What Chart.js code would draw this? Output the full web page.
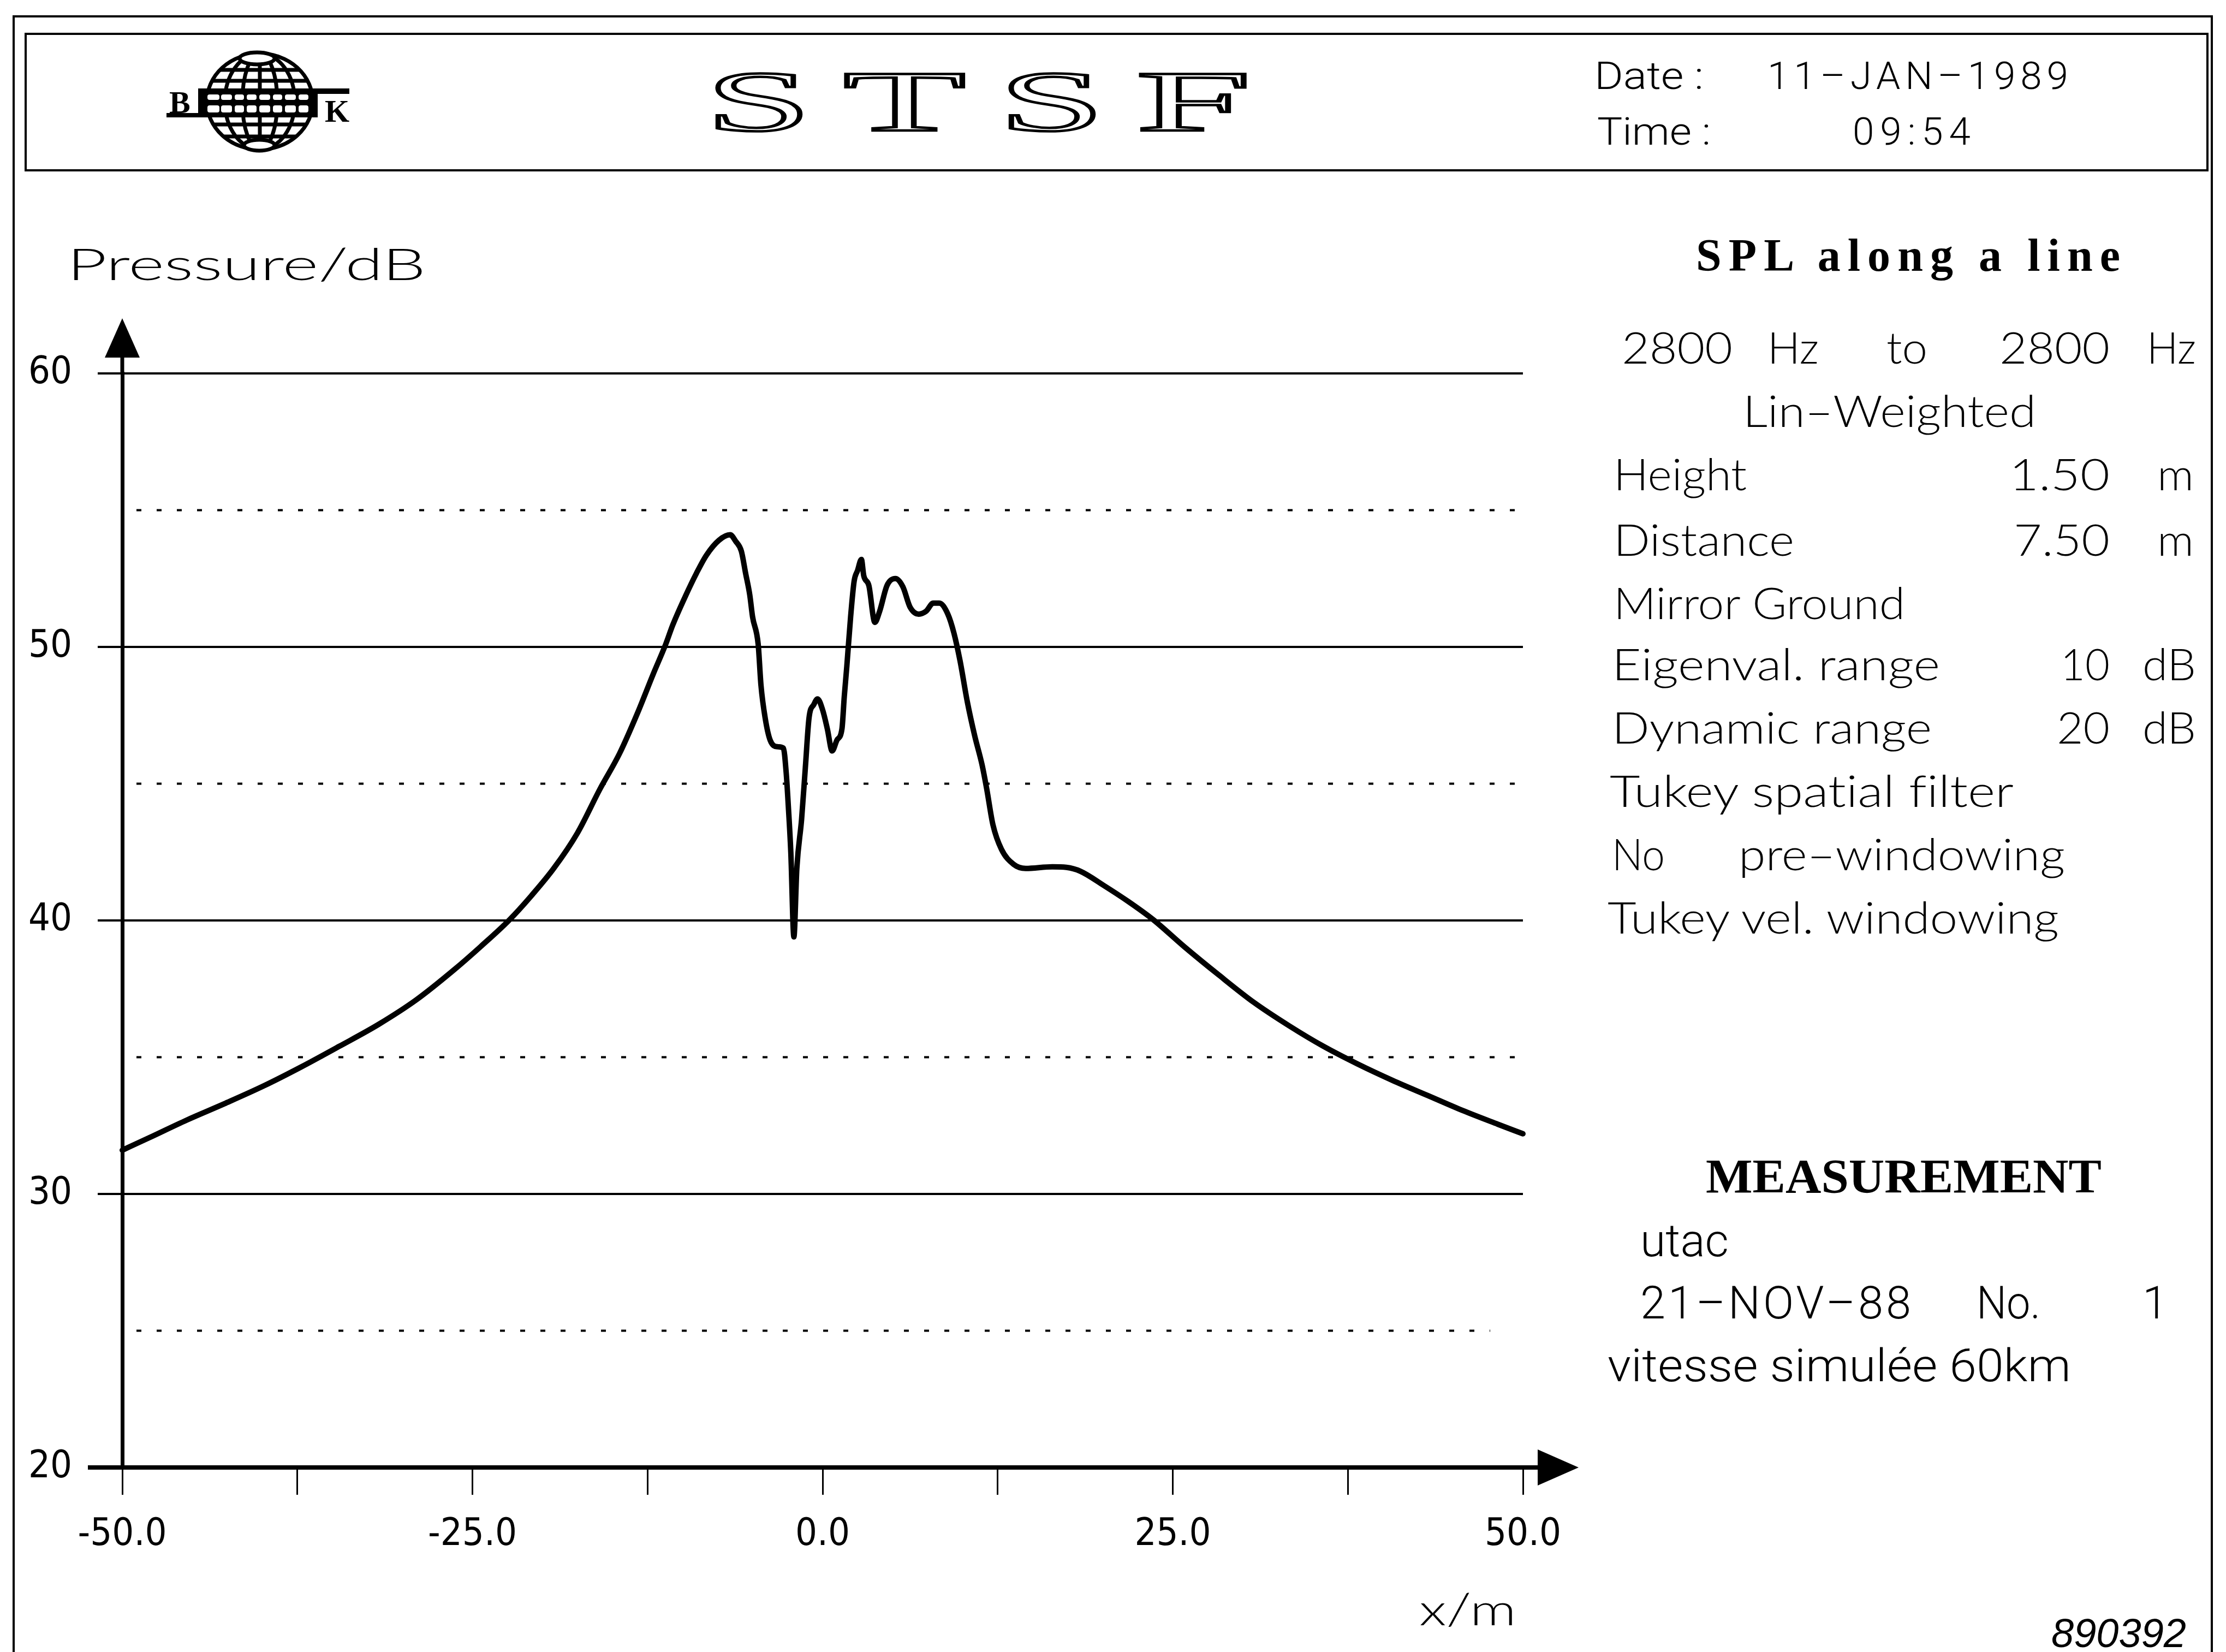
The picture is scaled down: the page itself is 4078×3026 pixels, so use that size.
<!DOCTYPE html>
<html lang="en">
<head>
    <meta charset="UTF-8">
    <title>STSF - SPL along a line</title>
    <script src="https://cdn.jsdelivr.net/npm/chart.js"></script>
    <style>
        html, body { margin: 0; padding: 0; background: #fff; }
        .page { position: relative; width: 4078px; height: 3026px; overflow: hidden; background: #fff; }
        #splChart { position: absolute; left: 0; top: 0; }
        #sheet { position: absolute; left: 0; top: 0; font-variant-ligatures: none; }
        .geo { font-family: Lato, 'DejaVu Sans', sans-serif; font-weight: 300; font-size: 80px; }
        .plain { font-family: Roboto, 'Liberation Sans', sans-serif; font-weight: 300; }
        .serif { font-family: 'Liberation Serif', 'DejaVu Serif', serif; font-weight: bold; }
    </style>
</head>
<body>
<div class="page">
    <canvas id="splChart" width="4078" height="3026"></canvas>

    <svg id="sheet" width="4078" height="3026" viewBox="0 0 4078 3026">
        <!-- frames -->
        <g fill="none" stroke="#000" stroke-width="4">
            <path d="M25 3040 V30 H4052 V3040"/>
            <rect x="47" y="62" width="3997" height="250"/>
        </g>

        <!-- B&K globe logo -->
        <g stroke="#000" fill="none" stroke-width="7">
            <ellipse cx="476" cy="186" rx="97" ry="88"/>
            <ellipse cx="476" cy="186" rx="64" ry="88"/>
            <ellipse cx="476" cy="186" rx="32" ry="88"/>
            <line x1="476" y1="98" x2="476" y2="274"/>
            <line x1="403" y1="128" x2="549" y2="128"/>
            <line x1="389" y1="148" x2="563" y2="148"/>
            <line x1="391" y1="228" x2="561" y2="228"/>
            <line x1="409" y1="250" x2="543" y2="250"/>
            <ellipse cx="471" cy="107" rx="32" ry="11" fill="#fff"/>
            <ellipse cx="475" cy="266" rx="28" ry="10" fill="#fff"/>
        </g>
        <g fill="#000">
            <rect x="363" y="162" width="219" height="53"/>
            <rect x="582" y="162" width="58" height="10"/>
            <rect x="305" y="207" width="58" height="8"/>
        </g>
        <g fill="#fff">
            <rect x="380" y="173" width="22" height="10" rx="4"/>
            <rect x="405" y="173" width="20" height="10" rx="4"/>
            <rect x="430" y="173" width="17" height="10" rx="4"/>
            <rect x="452" y="173" width="18" height="10" rx="4"/>
            <rect x="475" y="173" width="20" height="10" rx="4"/>
            <rect x="500" y="173" width="17" height="10" rx="4"/>
            <rect x="522" y="173" width="20" height="10" rx="4"/>
            <rect x="547" y="173" width="18" height="10" rx="4"/>
            <rect x="380" y="193" width="22" height="13" rx="4"/>
            <rect x="405" y="193" width="20" height="13" rx="4"/>
            <rect x="430" y="193" width="17" height="13" rx="4"/>
            <rect x="452" y="193" width="18" height="13" rx="4"/>
            <rect x="475" y="193" width="20" height="13" rx="4"/>
            <rect x="500" y="193" width="17" height="13" rx="4"/>
            <rect x="522" y="193" width="20" height="13" rx="4"/>
            <rect x="547" y="193" width="18" height="13" rx="4"/>
        </g>
        <text class="serif" x="310" y="207" font-size="58">B</text>
        <text class="serif" x="595" y="223" font-size="58">K</text>

        <!-- STSF, stretched outline letters -->
        <g font-family="'Liberation Serif', 'DejaVu Serif', serif" font-size="158" fill="#fff" stroke="#000" stroke-width="4.5">
            <text x="1292" y="239" textLength="195" lengthAdjust="spacingAndGlyphs">S</text>
            <text x="1545" y="239" textLength="224" lengthAdjust="spacingAndGlyphs">T</text>
            <text x="1829" y="239" textLength="195" lengthAdjust="spacingAndGlyphs">S</text>
            <text x="2081" y="239" textLength="211" lengthAdjust="spacingAndGlyphs">F</text>
        </g>

        <!-- date / time -->
        <g class="plain" font-size="71" fill="#000">
            <text x="2921" y="163" textLength="200" lengthAdjust="spacingAndGlyphs">Date :</text>
            <text x="3238" y="163" textLength="551">11–JAN–1989</text>
            <text x="2926" y="265" textLength="208" lengthAdjust="spacingAndGlyphs">Time :</text>
            <text x="3394" y="265" textLength="216">09:54</text>
        </g>

        <!-- axis titles -->
        <text class="geo" x="123" y="513" font-size="108" textLength="657" lengthAdjust="spacingAndGlyphs">Pressure/dB</text>
        <text class="geo" x="2600" y="2977" font-size="100" textLength="178" lengthAdjust="spacingAndGlyphs">x/m</text>
        <text x="3758" y="3017" font-family="'Liberation Sans', sans-serif" font-style="italic" font-size="74" textLength="247">890392</text>

        <!-- settings panel -->
        <text class="serif" x="3107" y="496" font-size="84" textLength="777">SPL along a line</text>
        <g class="geo" fill="#000" lengthAdjust="spacingAndGlyphs">
            <text x="2971" y="666" textLength="203" lengthAdjust="spacingAndGlyphs">2800</text>
            <text x="3238" y="666" textLength="94" lengthAdjust="spacingAndGlyphs">Hz</text>
            <text x="3456" y="666" textLength="75" lengthAdjust="spacingAndGlyphs">to</text>
            <text x="3663" y="666" textLength="202" lengthAdjust="spacingAndGlyphs">2800</text>
            <text x="3933" y="666" textLength="90" lengthAdjust="spacingAndGlyphs">Hz</text>

            <text x="3193" y="782" textLength="537" lengthAdjust="spacingAndGlyphs">Lin–Weighted</text>

            <text x="2956" y="898" textLength="244" lengthAdjust="spacingAndGlyphs">Height</text>
            <text x="3681" y="898" textLength="184" lengthAdjust="spacingAndGlyphs">1.50</text>
            <text x="3952" y="898" textLength="67" lengthAdjust="spacingAndGlyphs">m</text>

            <text x="2956" y="1018" textLength="331" lengthAdjust="spacingAndGlyphs">Distance</text>
            <text x="3689" y="1018" textLength="176" lengthAdjust="spacingAndGlyphs">7.50</text>
            <text x="3952" y="1018" textLength="67" lengthAdjust="spacingAndGlyphs">m</text>

            <text x="2956" y="1134" textLength="534" lengthAdjust="spacingAndGlyphs">Mirror Ground</text>

            <text x="2953" y="1246" textLength="601" lengthAdjust="spacingAndGlyphs">Eigenval. range</text>
            <text x="3775" y="1246" textLength="90" lengthAdjust="spacingAndGlyphs">10</text>
            <text x="3925" y="1246" textLength="98" lengthAdjust="spacingAndGlyphs">dB</text>

            <text x="2953" y="1362" textLength="586" lengthAdjust="spacingAndGlyphs">Dynamic range</text>
            <text x="3768" y="1362" textLength="97" lengthAdjust="spacingAndGlyphs">20</text>
            <text x="3925" y="1362" textLength="98" lengthAdjust="spacingAndGlyphs">dB</text>

            <text x="2949" y="1478" textLength="740" lengthAdjust="spacingAndGlyphs">Tukey  spatial filter</text>

            <text x="2953" y="1594" textLength="97" lengthAdjust="spacingAndGlyphs">No</text>
            <text x="3185" y="1594" textLength="598" lengthAdjust="spacingAndGlyphs">pre–windowing</text>

            <text x="2945" y="1710" textLength="827" lengthAdjust="spacingAndGlyphs">Tukey  vel. windowing</text>
        </g>

        <!-- measurement panel -->
        <text class="serif" x="3125" y="2184" font-size="88" textLength="725" lengthAdjust="spacingAndGlyphs">MEASUREMENT</text>
        <g class="plain" font-size="83" fill="#000">
            <text x="3005" y="2301" textLength="162" lengthAdjust="spacingAndGlyphs">utac</text>
            <text x="3005" y="2415" textLength="496">21–NOV–88</text>
            <text x="3621" y="2415" textLength="117" lengthAdjust="spacingAndGlyphs">No.</text>
            <text x="3925" y="2415">1</text>
            <text x="2945" y="2530" textLength="849" lengthAdjust="spacingAndGlyphs">vitesse simulée 60km</text>
        </g>
    </svg>
</div>

<script>
    // SPL along the line (x in m, level in dB)
    const positionsM = [-50, -48.1, -45.4, -42.7, -39.9, -37.2, -34.5, -31.7, -29.0, -26.3,
        -24.4, -22.4, -20.8, -19.2, -17.5, -15.9, -14.5, -13.2, -12.1, -11.2,
        -10.7, -9.8, -9.0, -8.3, -7.4, -6.6, -6.2, -5.8, -5.5, -5.2,
        -5.0, -4.6, -4.4, -4.1, -3.75, -3.2, -2.8, -2.6, -2.45, -2.27,
        -2.05, -1.84, -1.5, -1.23, -0.97, -0.62, -0.36, 0.0, 0.34, 0.68,
        1.03, 1.38, 1.55, 1.73, 2.0, 2.25, 2.5, 2.77, 2.94, 3.3,
        3.73, 4.07, 4.6, 5.2, 5.73, 6.25, 6.86, 7.38, 7.9, 8.33,
        8.94, 9.38, 9.81, 10.33, 10.86, 11.38, 11.72, 12.16, 12.77, 13.64,
        14.5, 16.4, 17.4, 18.4, 20.1, 21.8, 23.6, 25.8, 28.3, 30.8,
        33.3, 35.75, 38.2, 40.7, 43.2, 45.7, 48.2, 50];
    const pressureDb = [31.6, 32.05, 32.7, 33.3, 33.95, 34.65, 35.4, 36.2, 37.1, 38.2,
        39.05, 40.0, 40.9, 41.9, 43.2, 44.8, 46.1, 47.6, 49.0, 50.1,
        50.8, 51.85, 52.7, 53.35, 53.9, 54.1, 53.86, 53.5, 52.7, 51.9,
        51.1, 50.1, 48.6, 47.4, 46.6, 46.35, 46.3, 45.4, 44.2, 42.5,
        39.4, 41.9, 43.7, 45.6, 47.4, 47.9, 48.1, 47.7, 47.0, 46.2,
        46.6, 47.0, 48.2, 49.3, 51.1, 52.4, 52.8, 53.2, 52.6, 52.25,
        50.9, 51.3, 52.25, 52.5, 52.2, 51.45, 51.2, 51.3, 51.6, 51.6,
        51.2, 50.5, 49.5, 48.0, 46.75, 45.7, 44.8, 43.5, 42.6, 42.05,
        41.9, 41.96, 41.94, 41.8, 41.27, 40.7, 40.03, 39.05, 38.0, 37.0,
        36.15, 35.4, 34.75, 34.15, 33.6, 33.05, 32.55, 32.2];

    const xTickLabels = ['-50.0', '-25.0', '0.0', '25.0', '50.0'];
    const yTickLabels = [20, 30, 40, 50, 60];
    const dottedLevels = [25, 35, 45, 55];

    const tickFont = { family: "'Liberation Sans Narrow', 'DejaVu Sans Condensed', Roboto, sans-serif", size: 70 };
    const solidLine = (c) => (yTickLabels.includes(c.tick.value) ? '#000' : 'rgba(0,0,0,0)');

    // dotted grid, axis extensions and arrow heads
    const axisDecor = {
        id: 'axisDecor',
        beforeDatasetsDraw(chart) {
            const { ctx, chartArea: a, scales: { y } } = chart;
            ctx.save();
            ctx.strokeStyle = '#000';
            ctx.fillStyle = '#000';
            ctx.lineWidth = 4;
            ctx.setLineDash([9, 28]);
            dottedLevels.forEach(v => {
                const py = y.getPixelForValue(v);
                ctx.beginPath();
                ctx.moveTo(a.left + 26, py);
                ctx.lineTo(v === 25 ? a.right - 60 : a.right - 8, py);
                ctx.stroke();
            });
            ctx.setLineDash([]);

            // y axis
            ctx.lineWidth = 7;
            ctx.beginPath();
            ctx.moveTo(a.left, a.top);
            ctx.lineTo(a.left, a.top - 32);
            ctx.stroke();
            ctx.beginPath();
            ctx.moveTo(a.left, a.top - 101);
            ctx.lineTo(a.left - 32, a.top - 29);
            ctx.lineTo(a.left + 32, a.top - 29);
            ctx.closePath();
            ctx.fill();

            // x axis
            ctx.lineWidth = 8;
            ctx.beginPath();
            ctx.moveTo(a.left - 63, a.bottom);
            ctx.lineTo(a.right + 30, a.bottom);
            ctx.stroke();
            ctx.beginPath();
            ctx.moveTo(a.right + 102, a.bottom);
            ctx.lineTo(a.right + 27, a.bottom - 33);
            ctx.lineTo(a.right + 27, a.bottom + 33);
            ctx.closePath();
            ctx.fill();
            ctx.restore();
        }
    };

    const ctx = document.getElementById('splChart').getContext('2d');
    const splChart = new Chart(ctx, {
        type: 'line',
        data: {
            datasets: [{
                label: 'SPL',
                data: positionsM.map((x, i) => ({ x: x, y: pressureDb[i] })),
                borderColor: '#000',
                borderWidth: 10,
                pointRadius: 0,
                fill: false,
                cubicInterpolationMode: 'monotone',
                borderJoinStyle: 'round',
                borderCapStyle: 'round',
                clip: false
            }]
        },
        options: {
            responsive: false,
            animation: false,
            devicePixelRatio: 1,
            layout: { padding: { top: 684, right: 1288, left: 0, bottom: 0 } },
            plugins: {
                legend: { display: false },
                tooltip: { enabled: false }
            },
            scales: {
                x: {
                    type: 'linear',
                    min: -50,
                    max: 50,
                    afterFit: (s) => { s.height = 338; },
                    border: { color: '#000', width: 8 },
                    grid: { drawOnChartArea: false, drawTicks: true, tickLength: 50, tickWidth: 3, tickColor: '#000' },
                    ticks: {
                        stepSize: 12.5,
                        autoSkip: false,
                        maxRotation: 0,
                        padding: 32,
                        color: '#000',
                        font: tickFont,
                        callback: (v) => (xTickLabels.includes(Number(v).toFixed(1)) ? Number(v).toFixed(1) : '')
                    }
                },
                y: {
                    min: 20,
                    max: 60,
                    afterFit: (s) => { s.width = 224; },
                    border: { color: '#000', width: 7 },
                    grid: { color: solidLine, tickColor: solidLine, lineWidth: 4, tickLength: 45 },
                    ticks: {
                        stepSize: 5,
                        padding: 47,
                        color: '#000',
                        font: tickFont,
                        callback: (v) => (yTickLabels.includes(v) ? String(v) : '')
                    }
                }
            }
        },
        plugins: [axisDecor]
    });
</script>
</body>
</html>
